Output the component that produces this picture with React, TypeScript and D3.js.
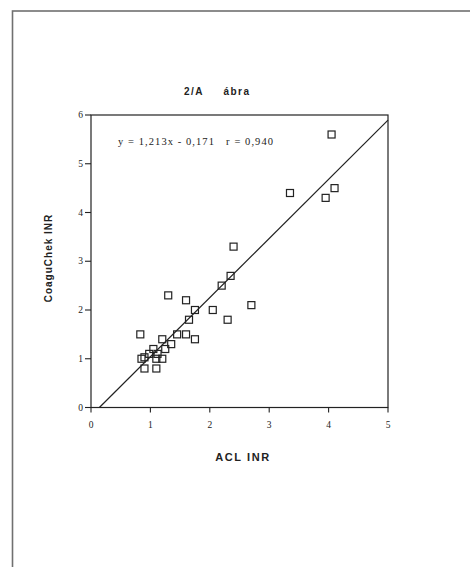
import React from "react";
import * as d3 from "d3";

const aclInr = [0.83, 0.85, 0.9, 0.9, 0.98, 1.05, 1.1, 1.1, 1.12, 1.2, 1.2, 1.25, 1.3, 1.35, 1.45, 1.6, 1.6, 1.65, 1.75, 1.75, 2.05, 2.2, 2.3, 2.35, 2.4, 2.7, 3.35, 3.95, 4.1, 4.05];
const coaguInr = [1.5, 1.0, 1.03, 0.8, 1.1, 1.2, 1.0, 0.8, 1.1, 1.4, 1.0, 1.2, 2.3, 1.3, 1.5, 2.2, 1.5, 1.8, 2.0, 1.4, 2.0, 2.5, 1.8, 2.7, 3.3, 2.1, 4.4, 4.3, 4.5, 5.6];
const xTicks = [0, 1, 2, 3, 4, 5];
const yTicks = [0, 1, 2, 3, 4, 5, 6];
const slope = 1.213;
const intercept = -0.171;
const title = ["2/A", "ábra"];
const equation = "y = 1,213x - 0,171   r = 0,940";
const xLabel = "ACL INR";
const yLabel = "CoaguChek INR";

export default function App() {
  const x = d3.scaleLinear().domain([0, 5]).range([91, 388]);
  const y = d3.scaleLinear().domain([0, 6]).range([407.5, 115]);
  const x0 = -intercept / slope;
  const lineGen = d3.line<number>().x((d) => x(d)).y((d) => y(slope * d + intercept));
  const ink = "#222";
  const sq = 7;

  return (
    <svg
      width={470}
      height={567}
      style={{ position: "absolute", left: 0, top: 0, background: "#fff" }}
    >
      <rect x={0} y={0} width={470} height={567} fill="#fff" />
      <rect x={12.5} y={11} width={470} height={580} fill="none" stroke="#707070" strokeWidth={1.6} />

      {/* title */}
      <text x={194} y={95} textAnchor="middle" fontFamily="Liberation Sans, Arial, sans-serif" fontWeight="bold" fontSize={10} letterSpacing={1.5} fill={ink}>{title[0]}</text>
      <text x={237} y={95} textAnchor="middle" fontFamily="Liberation Sans, Arial, sans-serif" fontWeight="bold" fontSize={10} letterSpacing={1.5} fill={ink}>{title[1]}</text>

      {/* plot frame */}
      <rect x={x(0)} y={y(6)} width={x(5) - x(0)} height={y(0) - y(6)} fill="none" stroke={ink} strokeWidth={1.2} />

      {/* x ticks */}
      {xTicks.map((t) => (
        <g key={"x" + t}>
          <line x1={x(t)} x2={x(t)} y1={y(0)} y2={y(0) + 5} stroke={ink} strokeWidth={1.1} />
          <text x={x(t)} y={428} textAnchor="middle" fontFamily="Liberation Serif, Times New Roman, serif" fontSize={9.5} fill={ink}>{t}</text>
        </g>
      ))}
      {/* y ticks */}
      {yTicks.map((t) => (
        <g key={"y" + t}>
          <line x1={x(0) - 6} x2={x(0)} y1={y(t)} y2={y(t)} stroke={ink} strokeWidth={1.1} />
          <text x={x(0) - 8} y={y(t) + 3} textAnchor="end" fontFamily="Liberation Serif, Times New Roman, serif" fontSize={9.5} fill={ink}>{t}</text>
        </g>
      ))}

      {/* regression line */}
      <path d={lineGen([x0, 5]) || ""} fill="none" stroke={ink} strokeWidth={1.2} />

      {/* points */}
      {aclInr.map((a, i) => (
        <rect key={i} x={x(a) - sq / 2} y={y(coaguInr[i]) - sq / 2} width={sq} height={sq} fill="none" stroke={ink} strokeWidth={1.2} />
      ))}

      {/* equation */}
      <text x={118} y={145} fontFamily="Liberation Serif, Times New Roman, serif" fontSize={10.5} textLength={155} lengthAdjust="spacing" fill={ink} style={{ whiteSpace: "pre" }}>{equation}</text>

      {/* axis labels */}
      <text x={243} y={461} textAnchor="middle" fontFamily="Liberation Sans, Arial, sans-serif" fontWeight="bold" fontSize={11} letterSpacing={1.6} fill={ink}>{xLabel}</text>
      <text transform="translate(52,258) rotate(-90)" textAnchor="middle" fontFamily="Liberation Sans, Arial, sans-serif" fontWeight="bold" fontSize={10} letterSpacing={1} fill={ink}>{yLabel}</text>
    </svg>
  );
}
